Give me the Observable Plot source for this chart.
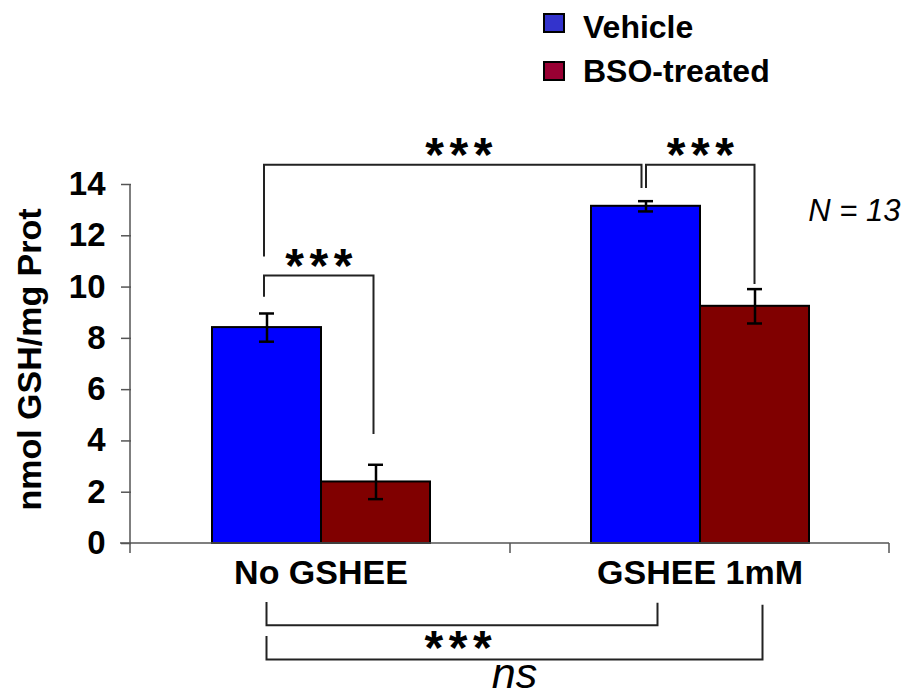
<!DOCTYPE html>
<html>
<head>
<meta charset="utf-8">
<script src="https://cdn.jsdelivr.net/npm/d3@7"></script>
<script src="https://cdn.jsdelivr.net/npm/@observablehq/plot@0.6"></script>
<style>
  html, body { margin: 0; padding: 0; background: #fff; }
  #wrap { position: relative; width: 906px; height: 696px; font-family: "Liberation Sans", Arial, Helvetica, sans-serif; }
  .sw { position: absolute; width: 22px; height: 20px; box-sizing: border-box; border: 2px solid #000; }
  .lt { position: absolute; font-size: 32px; font-weight: bold; line-height: 1; white-space: nowrap; color: #000; }
</style>
</head>
<body>
<div id="wrap">
  <div id="chart"></div>
  <div class="sw" style="left:543px; top:13px; background:#3333cc;"></div>
  <div class="lt" style="left:583px; top:10.6px;">Vehicle</div>
  <div class="sw" style="left:543px; top:61px; background:#990033;"></div>
  <div class="lt" style="left:583px; top:54.6px;">BSO-treated</div>
</div>
<script>
// ---- data ----
const groups = ["No GSHEE", "GSHEE 1mM"];
const series = ["Vehicle", "BSO-treated"];
const vehicleMean = [8.42, 13.15];
const vehicleErr = [0.55, 0.2];
const bsoMean = [2.40, 9.25];
const bsoErr = [0.67, 0.67];
const yTicks = [0, 2, 4, 6, 8, 10, 12, 14];
const nLabel = "N = 13";

// significance brackets (levels in y units)
const brackets = [
  {from: ["No GSHEE", "Vehicle"], to: ["No GSHEE", "BSO-treated"], level: 10.43, fromEnd: 9.6, toEnd: 4.25, label: "***", labelY: 10.18, fromShift: -2.5, toShift: -2},
  {from: ["No GSHEE", "Vehicle"], to: ["GSHEE 1mM", "Vehicle"], level: 14.75, fromEnd: 11.17, toEnd: 13.84, label: "***", labelY: 14.50, fromShift: -2.5, toShift: -4, labelShift: 6},
  {from: ["GSHEE 1mM", "Vehicle"], to: ["GSHEE 1mM", "BSO-treated"], level: 14.75, fromEnd: 13.84, toEnd: 10.1, label: "***", labelY: 14.52, fromShift: 0.5, toShift: 0},
  {from: ["No GSHEE", "Vehicle"], to: ["GSHEE 1mM", "Vehicle"], level: -3.21, fromEnd: -2.30, toEnd: -2.33, label: "***", labelY: -4.70, fromShift: 0, toShift: 12, labelShift: -4},
  {from: ["No GSHEE", "Vehicle"], to: ["GSHEE 1mM", "BSO-treated"], level: -4.54, fromEnd: -3.63, toEnd: -2.41, label: "ns", labelY: -5.66, fromShift: 0, toShift: 8, italic: true}
];

const rows = [];
groups.forEach((g, i) => {
  rows.push({group: g, series: series[0], mean: vehicleMean[i], err: vehicleErr[i]});
  rows.push({group: g, series: series[1], mean: bsoMean[i], err: bsoErr[i]});
});

const FONT = '"Liberation Sans", Arial, Helvetica, sans-serif';

const annotations = Plot.dot([0], {
  x: null,
  y: null,
  facet: "super",
  render: (index, scales, values, dims) => {
    const {fx, x, y} = scales;
    const bw = typeof x.bandwidth === "function" ? x.bandwidth() : (x.bandwidth || 0);
    const x0 = x.range ? Math.min(...x.range()) : dims.marginLeft;
    const fbw = typeof fx.bandwidth === "function" ? fx.bandwidth() : fx.bandwidth;
    const px = ([g, s]) => fx(g) + (x(s) - x0) + bw / 2;
    const root = d3.create("svg:g");
    // axis lines and group ticks
    const fr = fx.range();
    const left = Math.min(...fr), right = Math.max(...fr);
    const axis = root.append("g").attr("stroke", "#555").attr("stroke-width", 1.5).attr("fill", "none");
    axis.append("line").attr("x1", left - 10).attr("x2", right).attr("y1", y(0)).attr("y2", y(0));
    axis.append("line").attr("x1", left).attr("x2", left).attr("y1", y(yTicks[yTicks.length - 1])).attr("y2", y(0) + 10);
    groups.forEach(g => {
      axis.append("line").attr("x1", fx(g) + fbw).attr("x2", fx(g) + fbw).attr("y1", y(0)).attr("y2", y(0) + 10);
    });
    // brackets
    const br = root.append("g");
    for (const b of brackets) {
      const xa = px(b.from) + (b.fromShift || 0);
      const xb = px(b.to) + (b.toShift || 0);
      br.append("path")
        .attr("d", `M${xa},${y(b.fromEnd)}V${y(b.level)}H${xb}V${y(b.toEnd)}`)
        .attr("fill", "none").attr("stroke", "#222").attr("stroke-width", 2);
      const stars = b.label === "***";
      const ls = stars ? 5.6 : 0;
      br.append("text")
        .attr("x", (xa + xb) / 2 + (b.labelShift || 0) + ls / 2)
        .attr("y", y(b.labelY))
        .attr("text-anchor", "middle")
        .attr("font-family", FONT)
        .attr("font-size", stars ? 48 : 43)
        .attr("font-weight", stars ? "bold" : "normal")
        .attr("font-style", b.italic ? "italic" : "normal")
        .attr("letter-spacing", ls)
        .attr("fill", "#000")
        .text(b.label);
    }
    // y-axis title
    root.append("text")
      .attr("transform", `translate(41,${(y(0) + y(14)) / 2 - 4}) rotate(-90)`)
      .attr("text-anchor", "middle")
      .attr("font-family", FONT)
      .attr("font-size", 34)
      .attr("font-weight", "bold")
      .attr("fill", "#000")
      .text("nmol GSH/mg Prot");
    return root.node();
  }
});

const chart = Plot.plot({
  width: 906,
  height: 696,
  marginLeft: 130,
  marginRight: 17,
  marginTop: 184,
  marginBottom: 153,
  style: {fontFamily: FONT, background: "white", color: "black", overflow: "visible"},
  fx: {domain: groups, padding: 0, label: null},
  x: {domain: series, paddingInner: 0, paddingOuter: 0.7365, axis: null},
  y: {domain: [0, 14], label: null},
  color: {domain: series, range: ["#0000ff", "#800000"]},
  marks: [
    Plot.axisY({ticks: yTicks, tickSize: 10, tickPadding: 16, fontSize: 33, fontWeight: "bold", stroke: "#555", strokeWidth: 1.5, label: null}),
    Plot.axisFx({anchor: "bottom", tickSize: 0, tickPadding: 16, fontSize: 34, fontWeight: "bold", label: null}),
    Plot.barY(rows, {fx: "group", x: "series", y: "mean", fill: "series", stroke: "black", strokeWidth: 2}),
    Plot.ruleX(rows, {fx: "group", x: "series", y1: d => d.mean - d.err, y2: d => d.mean + d.err, stroke: "black", strokeWidth: 2.5}),
    Plot.tickY(rows, {fx: "group", x: "series", y: d => d.mean + d.err, stroke: "black", strokeWidth: 2.5, insetLeft: 47, insetRight: 47}),
    Plot.tickY(rows, {fx: "group", x: "series", y: d => d.mean - d.err, stroke: "black", strokeWidth: 2.5, insetLeft: 47, insetRight: 47}),
    Plot.text([{g: groups[1], t: nLabel}], {fx: "g", text: "t", frameAnchor: "top-right", lineAnchor: "bottom", textAnchor: "end", dx: 11, dy: 36, fontSize: 31, fontStyle: "italic", fill: "black"}),
    annotations
  ]
});
document.getElementById("chart").appendChild(chart);
</script>
</body>
</html>
